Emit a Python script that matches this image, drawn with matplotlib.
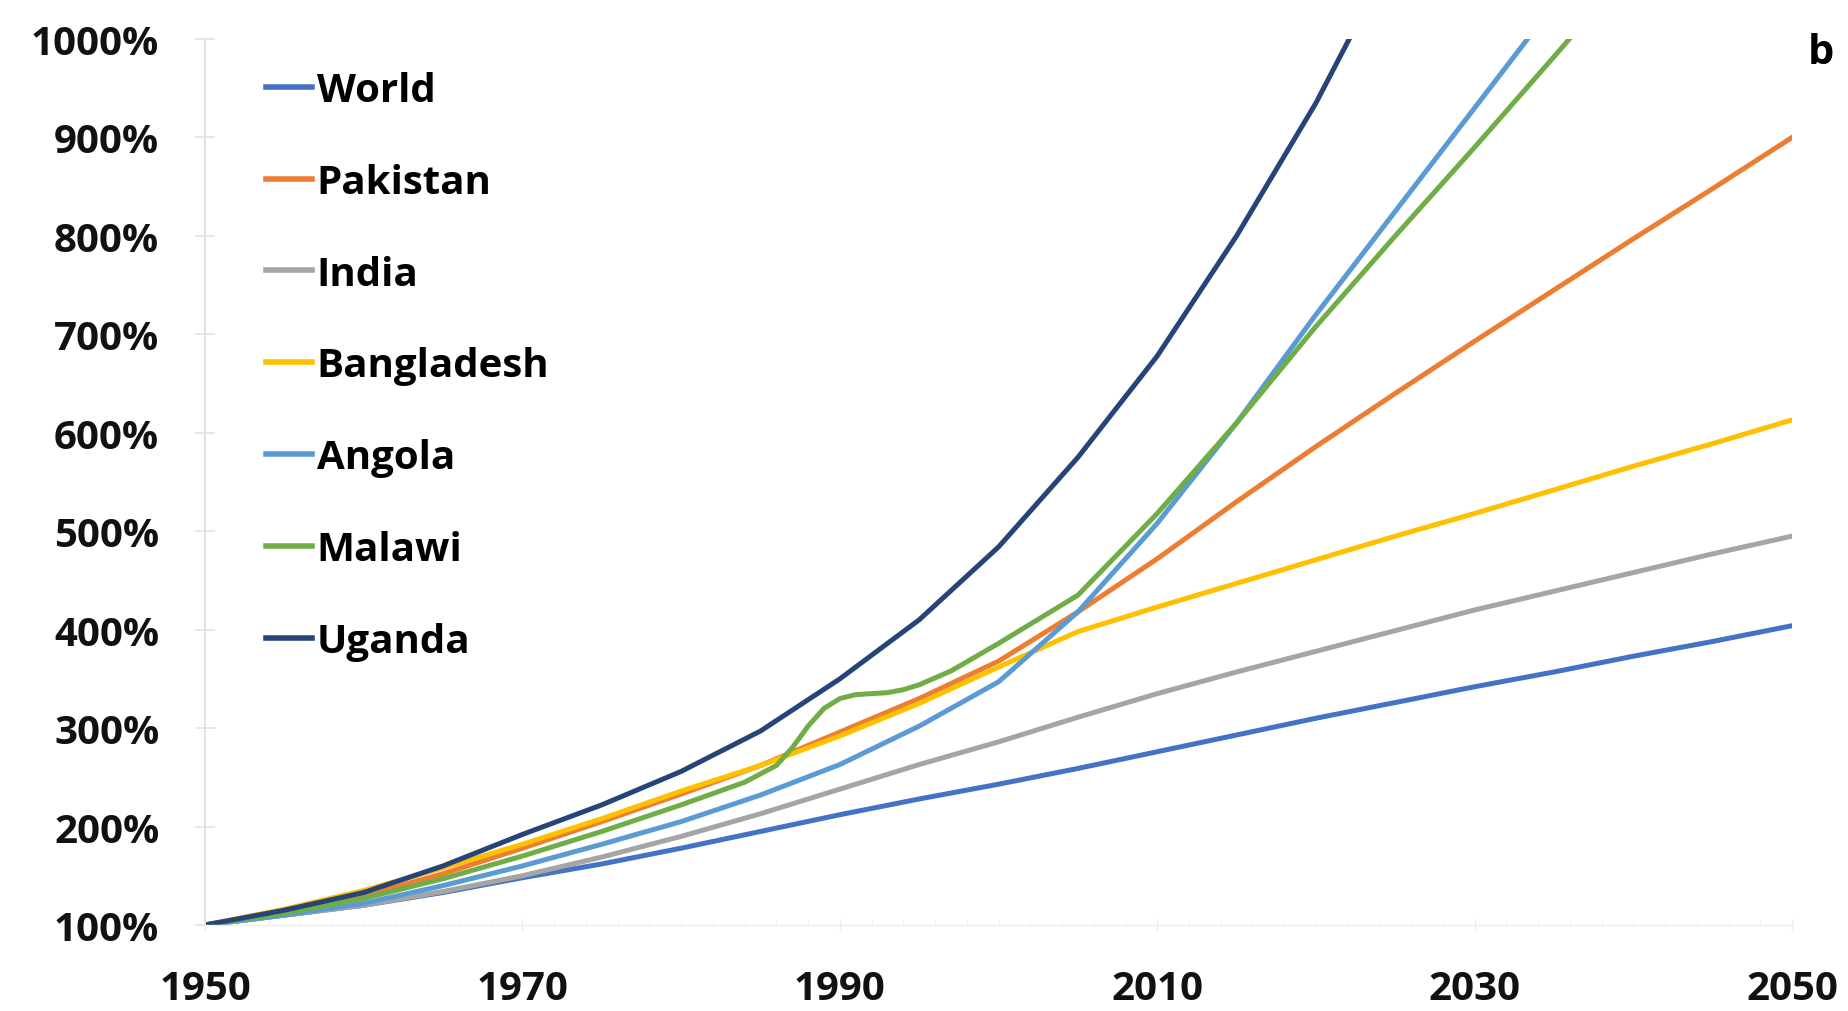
import numpy as np
import matplotlib
matplotlib.use("Agg")
import matplotlib.pyplot as plt
from matplotlib.ticker import FuncFormatter, MultipleLocator

# population relative to 1950 (%)
years = [1950, 1955, 1960, 1965, 1970, 1975, 1980, 1985, 1990, 1995, 2000,
         2005, 2010, 2015, 2020, 2025, 2030, 2035, 2040, 2045, 2050]

world = [100, 110, 120, 133, 148, 162, 178, 195, 212, 228, 243,
         259, 276, 293, 310, 326, 342, 357, 373, 388, 404]
pakistan = [100, 114, 130, 152, 178, 205, 233, 262, 296, 330, 368,
            418, 472, 530, 586, 640, 693, 745, 797, 848, 900]
india = [100, 110, 120, 134, 150, 169, 190, 213, 238, 263, 286,
         311, 335, 357, 378, 399, 420, 439, 458, 477, 495]
bangladesh = [100, 116, 135, 158, 182, 208, 236, 262, 292, 325, 362,
              398, 423, 447, 471, 495, 518, 542, 566, 589, 613]
angola_years = [1950, 1955, 1960, 1965, 1970, 1975, 1980, 1985, 1990, 1995,
                2000, 2005, 2010, 2015, 2020, 2025, 2030, 2035]
angola = [100, 110, 122, 140, 160, 182, 205, 232, 263, 302,
          347, 418, 508, 610, 720, 825, 930, 1035]
malawi_years = [1950, 1955, 1960, 1965, 1970, 1975, 1980, 1984, 1986, 1987,
                1988, 1989, 1990, 1991, 1992, 1993, 1994, 1995, 1997, 2000,
                2005, 2010, 2015, 2020, 2025, 2030, 2035, 2040]
malawi = [100, 112, 127, 147, 170, 195, 222, 245, 262, 280,
          302, 320, 330, 334, 335, 336, 339, 344, 358, 386,
          435, 518, 610, 708, 800, 890, 982, 1075]
uganda_years = [1950, 1955, 1960, 1965, 1970, 1975, 1980, 1985, 1990, 1995,
                2000, 2005, 2010, 2015, 2020, 2025]
uganda = [100, 115, 133, 160, 192, 222, 256, 297, 350, 410,
          484, 575, 678, 800, 935, 1090]

names = ["World", "Pakistan", "India", "Bangladesh", "Angola", "Malawi", "Uganda"]
colors = ["#4472C4", "#ED7D31", "#A5A5A5", "#FFC000", "#5B9BD5", "#70AD47", "#264478"]

plt.rcParams['font.family'] = ['Open Sans', 'DejaVu Sans']
plt.rcParams['font.weight'] = 'bold'

fig = plt.figure(figsize=(18.49, 10.12), dpi=100)
ax = fig.add_axes([0.1109, 0.085, 0.8583, 0.8755])

series = [
    (years, world),
    (years, pakistan),
    (years, india),
    (years, bangladesh),
    (angola_years, angola),
    (malawi_years, malawi),
    (uganda_years, uganda),
]
for (x, y), name, c in zip(series, names, colors):
    ax.plot(x, y, color=c, lw=3.6, label=name, solid_joinstyle='round')

ax.set_xlim(1950, 2050)
ax.set_ylim(100, 1000)
ax.set_xticks(range(1950, 2051, 20))
ax.yaxis.set_major_locator(MultipleLocator(100))
ax.xaxis.set_minor_locator(MultipleLocator(2))
ax.yaxis.set_major_formatter(FuncFormatter(lambda v, p: "%d%%" % v))

for s in ["top", "right"]:
    ax.spines[s].set_visible(False)
ax.spines["left"].set_color("#E3E3E3")
ax.spines["bottom"].set_color("#EDEDED")
ax.spines["left"].set_linewidth(1.5)
ax.spines["bottom"].set_linewidth(1.0)

ax.tick_params(axis='y', which='major', direction='inout', length=14, width=1.2,
               color="#E3E3E3", labelsize=29, pad=26, labelcolor="#111111")
ax.tick_params(axis='x', which='major', direction='inout', length=8, width=1.0,
               color="#EDEDED", labelsize=29, pad=28, labelcolor="#111111")
ax.tick_params(axis='x', which='minor', direction='in', length=4, color="#F0F0F0")

leg = ax.legend(loc='upper left', bbox_to_anchor=(0.028, 0.982), frameon=False,
                fontsize=29, handlelength=1.15, handletextpad=0.12,
                labelspacing=1.31, borderaxespad=0)
for line in leg.get_lines():
    line.set_linewidth(4)

fig.text(0.985, 0.947, "b", fontsize=30, fontweight='bold', ha='center', va='center')

fig.savefig("out.png", dpi=100)
